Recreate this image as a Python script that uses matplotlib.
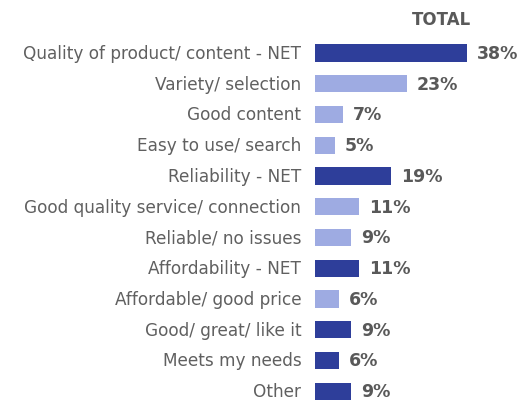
import matplotlib.pyplot as plt

categories = ['Quality of product/ content - NET', 'Variety/ selection', 'Good content',
              'Easy to use/ search', 'Reliability - NET', 'Good quality service/ connection',
              'Reliable/ no issues', 'Affordability - NET', 'Affordable/ good price',
              'Good/ great/ like it', 'Meets my needs', 'Other']
values = [38, 23, 7, 5, 19, 11, 9, 11, 6, 9, 6, 9]
is_sub = [False, True, True, True, False, True, True, False, True, False, False, False]

dark = '#2E3E9A'
light = '#9EABE2'
grey = '#595959'

plt.rcParams['font.family'] = ['DejaVu Sans']

fig = plt.figure(figsize=(5.21, 4.02), dpi=100)
ax = fig.add_axes([0.605, 0, 0.345, 1])

rows = list(range(len(categories)))
colors = [light if s else dark for s in is_sub]
ax.barh(rows, values, height=0.56, color=colors)

for r, v in zip(rows, values):
    ax.text(v + 2.4, r, f'{v}%', va='center', ha='left', fontsize=12.5,
            fontweight='bold', color=grey)

ax.text(31.5, -1.1, 'TOTAL', ha='center', va='center', fontsize=12,
        fontweight='bold', color=grey)

ax.set_yticks(rows)
ax.set_yticklabels(categories, fontsize=12.2, color='#606060', va='center')
ax.tick_params(axis='y', length=0, pad=10)
ax.set_xticks([])
ax.set_xlim(0, 45)
ax.set_ylim(11.32, -1.757)
for s in ax.spines.values():
    s.set_visible(False)

fig.savefig('out.png', dpi=100)
